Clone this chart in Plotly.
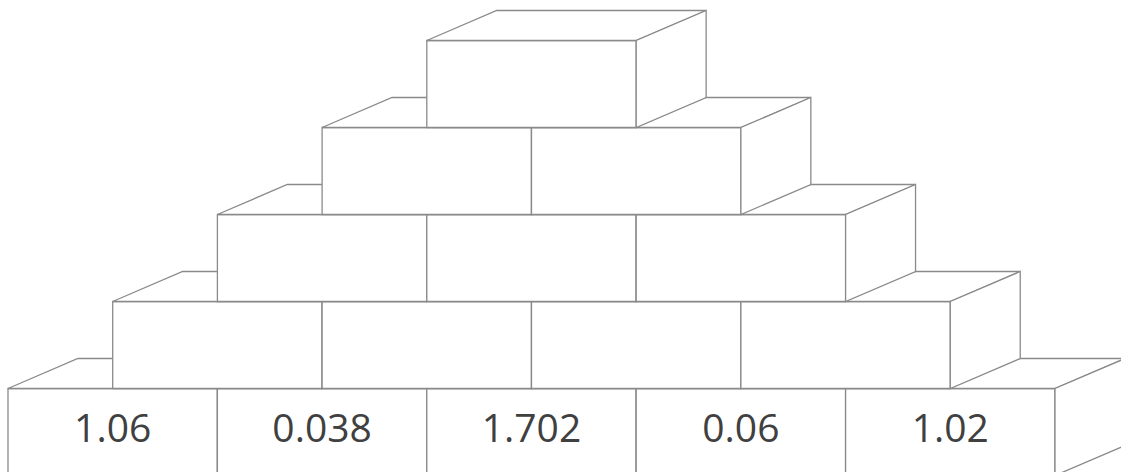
import plotly.graph_objects as go

# Data
values = [1.06, 0.038, 1.702, 0.06, 1.02]   # bottom row bricks
labels = ["1.06", "0.038", "1.702", "0.06", "1.02"]
rows = 5  # pyramid levels: 5,4,3,2,1 bricks

# Style / geometry (in brick units)
DX = 0.334   # depth offset in x (brick widths)
DY = 0.345   # depth offset in y (brick heights)
LINE = "#8a8a8a"

fig = go.Figure()
shapes = []

def path(pts):
    return "M " + " L ".join(f"{x},{y}" for x, y in pts) + " Z"

for r in range(rows):
    n = rows - r
    x0 = r * 0.5
    yb, yt = r, r + 1
    for i in range(n):
        xl, xr = x0 + i, x0 + i + 1
        faces = [
            [(xl, yb), (xl, yt), (xr, yt), (xr, yb)],
            [(xl, yt), (xl + DX, yt + DY), (xr + DX, yt + DY), (xr, yt)],
            [(xr, yb), (xr, yt), (xr + DX, yt + DY), (xr + DX, yb + DY)],
        ]
        for f in faces:
            shapes.append(dict(type="path", path=path(f), xref="x", yref="y",
                               fillcolor="white", line=dict(color=LINE, width=1.3),
                               layer="below"))

fig.add_trace(go.Scatter(
    x=[i + 0.5 for i in range(len(values))],
    y=[0.5] * len(values),
    mode="text",
    text=labels,
    textfont=dict(family="Open Sans", size=39, color="#404040"),
    textposition="middle center",
    hoverinfo="skip",
    showlegend=False,
))

px_per_x = 209.4
px_per_y = 87.0
fig.update_layout(
    width=1121, height=472,
    margin=dict(l=0, r=0, t=0, b=0),
    paper_bgcolor="white", plot_bgcolor="white",
    shapes=shapes,
    xaxis=dict(range=[-8 / px_per_x, (1121 - 8) / px_per_x], visible=False, fixedrange=True),
    yaxis=dict(range=[(475.5 - 472) / px_per_y, 475.5 / px_per_y], visible=False, fixedrange=True),
)

fig.write_html("out.html", config={"displayModeBar": False},
               post_script="document.body.style.margin='0';")
